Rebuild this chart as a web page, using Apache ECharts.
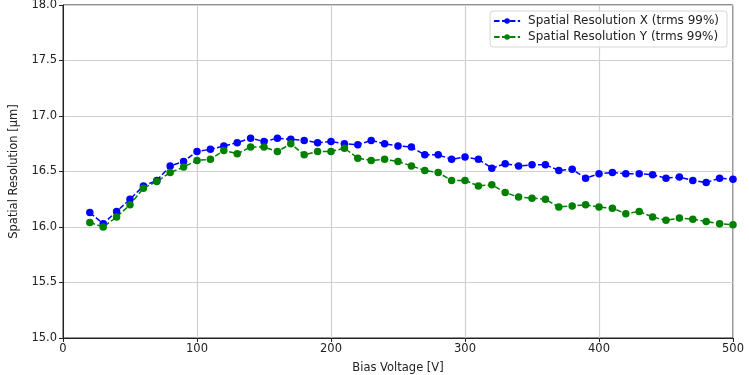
<!DOCTYPE html>
<html>
<head>
<meta charset="utf-8">
<script src="https://cdn.jsdelivr.net/npm/echarts@6/dist/echarts.min.js"></script>
<style>
  html, body { margin: 0; padding: 0; background: #fff; }
  #chart { width: 749px; height: 375px; }
</style>
</head>
<body>
<div id="chart"></div>
<script>
// bias voltage steps [V]
var voltages = [20, 30, 40, 50, 60, 70, 80, 90, 100, 110, 120, 130, 140, 150, 160, 170, 180, 190, 200,
    210, 220, 230, 240, 250, 260, 270, 280, 290, 300, 310, 320, 330, 340, 350, 360, 370, 380, 390, 400,
    410, 420, 430, 440, 450, 460, 470, 480, 490, 500];

// spatial resolution X [µm]
var resX = [16.13, 16.03, 16.14, 16.25, 16.37, 16.42, 16.55, 16.59, 16.68, 16.70, 16.73, 16.76, 16.80, 16.77, 16.80, 16.79, 16.78, 16.76, 16.77,
    16.75, 16.74, 16.78, 16.75, 16.73, 16.72, 16.65, 16.65, 16.61, 16.63, 16.61, 16.53, 16.57, 16.55, 16.56, 16.56, 16.51, 16.52, 16.44, 16.48,
    16.49, 16.48, 16.48, 16.47, 16.44, 16.45, 16.42, 16.40, 16.44, 16.43];

// spatial resolution Y [µm]
var resY = [16.04, 16.00, 16.09, 16.20, 16.35, 16.41, 16.49, 16.54, 16.60, 16.61, 16.69, 16.66, 16.72, 16.72, 16.68, 16.75, 16.65, 16.68, 16.68,
    16.71, 16.62, 16.60, 16.61, 16.59, 16.55, 16.51, 16.49, 16.42, 16.42, 16.37, 16.38, 16.31, 16.27, 16.26, 16.25, 16.18, 16.19, 16.20, 16.18,
    16.17, 16.12, 16.14, 16.09, 16.06, 16.08, 16.07, 16.05, 16.03, 16.02];

var xTicks = { min: 0, max: 500, interval: 100 };
var yTicks = { min: 15, max: 18, interval: 0.5 };

function pairs(xs, ys) {
    return xs.map(function (x, i) { return [x, ys[i]]; });
}

var font = 'DejaVu Sans';
var axisColor = '#222';
var gridColor = '#d0d0d0';

var chart = echarts.init(document.getElementById('chart'), null, { renderer: 'canvas' });

function makeSeries(name, color, data) {
    return {
        type: 'line',
        name: name,
        data: data,
        symbol: 'circle',
        symbolSize: 7.5,
        showSymbol: true,
        itemStyle: { color: color },
        lineStyle: { color: color, width: 1.5, type: [5.5, 2.4] },
        emphasis: { disabled: true }
    };
}

chart.setOption({
    animation: false,
    backgroundColor: '#fff',
    textStyle: { fontFamily: font },
    grid: {
        left: 63, right: 16, top: 5, bottom: 37,
        outerBoundsMode: 'none',
        show: true, borderColor: axisColor, borderWidth: 1
    },
    legend: {
        top: 11,
        right: 22,
        orient: 'vertical',
        itemGap: 2,
        itemWidth: 26,
        itemHeight: 7,
        padding: [3, 8, 3, 3],
        borderColor: '#d6d6d6',
        borderWidth: 1,
        borderRadius: 3,
        backgroundColor: 'rgba(255,255,255,0.8)',
        textStyle: { fontFamily: font, fontSize: 12, color: '#222', lineHeight: 14, padding: [0, 0, 0, 3] },
        data: ['Spatial Resolution X (trms 99%)', 'Spatial Resolution Y (trms 99%)']
    },
    xAxis: {
        type: 'value',
        min: xTicks.min,
        max: xTicks.max,
        interval: xTicks.interval,
        name: 'Bias Voltage [V]',
        nameLocation: 'middle',
        nameGap: 24,
        nameTextStyle: { fontFamily: font, fontSize: 11.5, color: '#222' },
        axisLine: { show: true, lineStyle: { color: axisColor, width: 1 } },
        axisTick: { show: true, length: 4, lineStyle: { color: axisColor } },
        axisLabel: { fontFamily: font, fontSize: 11.5, color: '#222', margin: 5 },
        splitLine: { show: true, lineStyle: { color: gridColor, width: 1.2 } }
    },
    yAxis: {
        type: 'value',
        min: yTicks.min,
        max: yTicks.max,
        interval: yTicks.interval,
        name: 'Spatial Resolution [µm]',
        nameLocation: 'middle',
        nameGap: 39,
        nameTextStyle: { fontFamily: font, fontSize: 11.5, color: '#222' },
        axisLine: { show: true, lineStyle: { color: axisColor, width: 1 } },
        axisTick: { show: true, length: 4, lineStyle: { color: axisColor } },
        axisLabel: {
            fontFamily: font, fontSize: 11.5, color: '#222', margin: 6,
            formatter: function (v) { return v.toFixed(1); }
        },
        splitLine: { show: true, lineStyle: { color: gridColor, width: 1.2 } }
    },
    series: [
        makeSeries('Spatial Resolution X (trms 99%)', '#0000ff', pairs(voltages, resX)),
        makeSeries('Spatial Resolution Y (trms 99%)', '#008000', pairs(voltages, resY))
    ]
});
</script>
</body>
</html>
